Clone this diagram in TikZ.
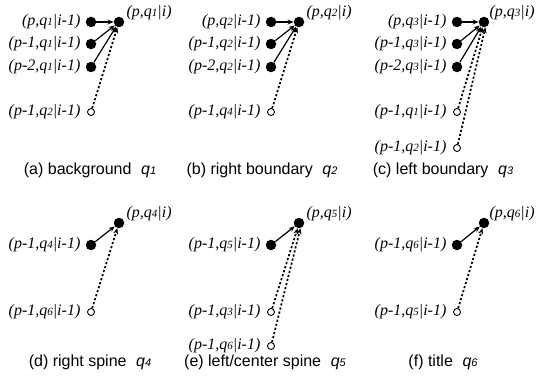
\documentclass[tikz,border=0pt]{standalone}
\usepackage{fontspec}
\setmainfont{Liberation Serif}
\setsansfont{Liberation Sans}
\usepackage{tikz}
\usetikzlibrary{arrows.meta, positioning}

\newcommand{\qs}[1]{q{\fontsize{11}{11}\selectfont #1}}

\begin{document}
\begin{tikzpicture}[
    x=1pt, y=-1pt,
    full/.style={circle, fill=black, inner sep=0pt, minimum size=10.5pt},
    hollow/.style={circle, draw, fill=white, line width=0.9pt, inner sep=0pt, minimum size=7pt},
    lbl/.style={font=\fontsize{16}{16}\selectfont\itshape, inner sep=1pt},
    subcap/.style={font=\fontsize{16}{16}\selectfont\sffamily, inner sep=1pt},
    arr/.style={-{Stealth[length=6pt, width=5pt]}, line width=1.2pt},
    dots/.style={arr, line width=1.7pt, dash pattern=on 2.2pt off 2pt}
]
    \useasboundingbox (0,0) rectangle (537,385);

    % (a) background
    \node[full] (a0) at (119,22) {};
    \node[full] (a1) at (91,22)  {};
    \node[full] (a2) at (91,44)  {};
    \node[full] (a3) at (91,67)  {};
    \node[hollow] (a4) at (91,112) {};
    \node[lbl, right=1pt of a0, yshift=9pt] (ta0) {(p,\qs{1}|i)};
    \node[lbl, left=4pt of a1] (ta1) {(p,\qs{1}|i-1)};
    \node[lbl, left=4pt of a2] (ta2) {(p-1,\qs{1}|i-1)};
    \node[lbl, left=4pt of a3] (ta3) {(p-2,\qs{1}|i-1)};
    \node[lbl, left=5.5pt of a4] (ta4) {(p-1,\qs{2}|i-1)};
    \draw[arr] (a1) -- (a0);
    \draw[arr] (a2) -- (a0);
    \draw[arr] (a3) -- (a0);
    \draw[dots] (a4) -- (a0);
    \node[subcap] (capa) at (90,170) {(a) background\hspace{0.6em}\textit{\qs{1}}};

    % (b) right boundary
    \node[full] (b0) at (299,22) {};
    \node[full] (b1) at (271,22) {};
    \node[full] (b2) at (271,44) {};
    \node[full] (b3) at (271,67) {};
    \node[hollow] (b4) at (271,112) {};
    \node[lbl, right=1pt of b0, yshift=9pt] (tb0) {(p,\qs{2}|i)};
    \node[lbl, left=4pt of b1] (tb1) {(p,\qs{2}|i-1)};
    \node[lbl, left=4pt of b2] (tb2) {(p-1,\qs{2}|i-1)};
    \node[lbl, left=4pt of b3] (tb3) {(p-2,\qs{2}|i-1)};
    \node[lbl, left=5.5pt of b4] (tb4) {(p-1,\qs{4}|i-1)};
    \draw[arr] (b1) -- (b0);
    \draw[arr] (b2) -- (b0);
    \draw[arr] (b3) -- (b0);
    \draw[dots] (b4) -- (b0);
    \node[subcap] (capb) at (262,170) {(b) right boundary\hspace{0.6em}\textit{\qs{2}}};

    % (c) left boundary
    \node[full] (c0) at (484,22) {};
    \node[full] (c1) at (457,22) {};
    \node[full] (c2) at (457,44) {};
    \node[full] (c3) at (457,67) {};
    \node[hollow] (c4) at (457,112) {};
    \node[hollow] (c5) at (457,148) {};
    \node[lbl, right=-1pt of c0, yshift=9pt] (tc0) {(p,\qs{3}|i)};
    \node[lbl, left=4pt of c1] (tc1) {(p,\qs{3}|i-1)};
    \node[lbl, left=4pt of c2] (tc2) {(p-1,\qs{3}|i-1)};
    \node[lbl, left=4pt of c3] (tc3) {(p-2,\qs{3}|i-1)};
    \node[lbl, left=5.5pt of c4] (tc4) {(p-1,\qs{1}|i-1)};
    \node[lbl, left=5.5pt of c5] (tc5) {(p-1,\qs{2}|i-1)};
    \draw[arr] (c1) -- (c0);
    \draw[arr] (c2) -- (c0);
    \draw[arr] (c3) -- (c0);
    \draw[dots] (c4) -- (c0.-105);
    \draw[dots] (c5) -- (c0.-75);
    \node[subcap] (capc) at (443,170) {(c) left boundary\hspace{0.6em}\textit{\qs{3}}};

    % (d) right spine
    \node[full] (d0) at (119,223) {};
    \node[full] (d1) at (91,245)  {};
    \node[hollow] (d2) at (91,312) {};
    \node[lbl, right=1pt of d0, yshift=9pt] (td0) {(p,\qs{4}|i)};
    \node[lbl, left=4pt of d1] (td1) {(p-1,\qs{4}|i-1)};
    \node[lbl, left=5.5pt of d2] (td2) {(p-1,\qs{6}|i-1)};
    \draw[arr] (d1) -- (d0);
    \draw[dots] (d2) -- (d0);
    \node[subcap] (capd) at (90,362) {(d) right spine\hspace{0.6em}\textit{\qs{4}}};

    % (e) left/center spine
    \node[full] (e0) at (299,223) {};
    \node[full] (e1) at (271,245) {};
    \node[hollow] (e2) at (271,312) {};
    \node[hollow] (e3) at (271,346) {};
    \node[lbl, right=1pt of e0, yshift=9pt] (te0) {(p,\qs{5}|i)};
    \node[lbl, left=4pt of e1] (te1) {(p-1,\qs{5}|i-1)};
    \node[lbl, left=5.5pt of e2] (te2) {(p-1,\qs{3}|i-1)};
    \node[lbl, left=5.5pt of e3] (te3) {(p-1,\qs{6}|i-1)};
    \draw[arr] (e1) -- (e0);
    \draw[dots] (e2) -- (e0.-105);
    \draw[dots] (e3) -- (e0.-75);
    \node[subcap] (cape) at (265,362) {(e) left/center spine\hspace{0.6em}\textit{\qs{5}}};

    % (f) title
    \node[full] (f0) at (484,223) {};
    \node[full] (f1) at (457,245) {};
    \node[hollow] (f2) at (457,312) {};
    \node[lbl, right=-1pt of f0, yshift=9pt] (tf0) {(p,\qs{6}|i)};
    \node[lbl, left=4pt of f1] (tf1) {(p-1,\qs{6}|i-1)};
    \node[lbl, left=5.5pt of f2] (tf2) {(p-1,\qs{5}|i-1)};
    \draw[arr] (f1) -- (f0);
    \draw[dots] (f2) -- (f0);
    \node[subcap] (capf) at (443,362) {(f) title\hspace{0.6em}\textit{\qs{6}}};
\end{tikzpicture}
\end{document}
